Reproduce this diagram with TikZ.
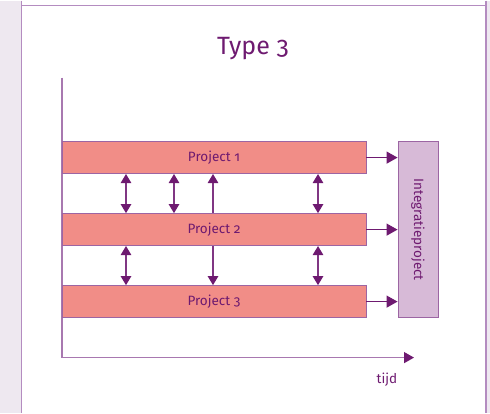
\documentclass[tikz,border=0pt]{standalone}
\usepackage{fontspec}
\setmainfont{Fira Sans}[Numbers=OldStyle]
\usepackage{tikz}
\usetikzlibrary{positioning}
\usetikzlibrary{arrows.meta}

\definecolor{paars}{HTML}{6E1A70}
\definecolor{lijn}{HTML}{A878B0}
\definecolor{rand}{HTML}{B48CC0}
\definecolor{zalm}{HTML}{F18D87}
\definecolor{lila}{HTML}{D7BAD7}
\definecolor{strook}{HTML}{EEE8F0}

\begin{document}
\begin{tikzpicture}[x=1pt,y=-1pt,
	proj/.style={draw=lijn!80!paars,fill=zalm,line width=0.9pt,minimum width=304pt,minimum height=32pt,inner sep=0pt,text=paars,font=\fontsize{13.5}{15}\selectfont},
	integ/.style={draw=lijn!80!paars,fill=lila,line width=0.9pt,minimum width=40pt,minimum height=176pt,inner sep=0pt},
	pijl/.style={paars,line width=1.3pt,-{Triangle[length=11pt,width=12pt]}},
	dpijl/.style={paars!70!lijn,line width=1.1pt,{Triangle[length=9pt,width=10.5pt,color=paars]}-{Triangle[length=9pt,width=10.5pt,color=paars]}},
	epijl/.style={paars!70!lijn,line width=1.1pt,-{Triangle[length=9pt,width=10.5pt,color=paars]}}]
			
			% frame
			\fill[strook] (0,0) rectangle (21.5,412);
			\fill[strook] (486.5,0) rectangle (490,412);
			\draw[rand,line width=1.2pt] (21.5,0) -- (21.5,412);
			\draw[rand,line width=1.2pt] (486,0) -- (486,412);
			\draw[rand,line width=1.2pt] (21.5,5) -- (486,5);
			\useasboundingbox (0,0) rectangle (490,412);
			
			\node[text=paars,font=\fontsize{25}{28}\selectfont] (T) at (253,48) {Type 3};
			
			% axes
			\coordinate (O) at (62,357);
			\coordinate (Y) at (62,77);
			\coordinate (X) at (414,357);
			\draw[lijn,line width=1.3pt] (Y) -- (O);
			\draw[lijn,line width=1.3pt,-{Triangle[length=10pt,width=11pt,color=paars]}] (O) -- (X);
			\node[text=paars,font=\fontsize{13.5}{15}\selectfont] (tijd) at (387,379) {tijd};
			
			% projects
			\node[proj] (P1) at (214,157) {Project 1};
			\node[proj] (P2) at (214,229) {Project 2};
			\node[proj] (P3) at (214,301) {Project 3};
			\node[integ] (I) at (418,229) {};
			\node[rotate=-90,text=paars,font=\fontsize{13.5}{15}\selectfont] (IT) at (I.center) {Integratieproject};
			
			\draw[pijl] (P1.east) -- (P1.east -| I.west);
			\draw[pijl] (P2.east) -- (P2.east -| I.west);
			\draw[pijl] (P3.east) -- (P3.east -| I.west);
			
			% links
			\coordinate (A) at (126,0);
			\coordinate (B) at (174,0);
			\coordinate (C) at (213,0);
			\coordinate (D) at (318,0);
			
			\draw[dpijl] (P1.south -| A) -- (P2.north -| A);
			\draw[dpijl] (P1.south -| B) -- (P2.north -| B);
			\draw[epijl] (P2.north -| C) -- (P1.south -| C);
			\draw[dpijl] (P1.south -| D) -- (P2.north -| D);
			
			\draw[dpijl] (P2.south -| A) -- (P3.north -| A);
			\draw[epijl] (P2.south -| C) -- (P3.north -| C);
			\draw[dpijl] (P2.south -| D) -- (P3.north -| D);
			
		\end{tikzpicture}
\end{document}
